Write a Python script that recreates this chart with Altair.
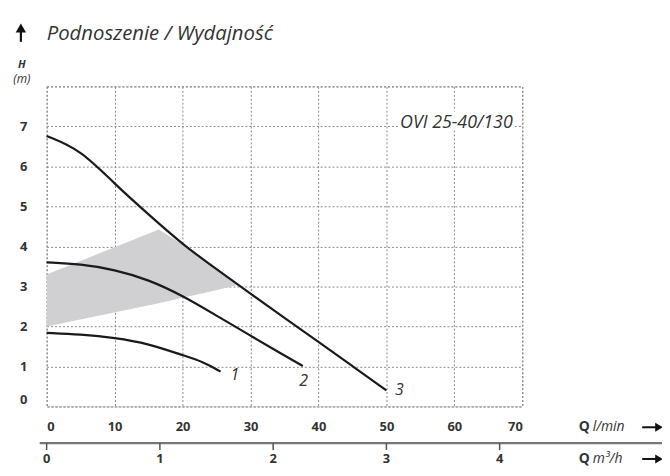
import altair as alt
import pandas as pd

# ---- data (Q in l/min, H in m) ----
curve1_q = [0, 5, 10, 15, 20, 23, 25.6]
curve1_h = [1.84, 1.80, 1.72, 1.57, 1.28, 1.12, 0.87]
curve2_q = [0, 5, 10, 15, 20, 25, 30, 35, 37.7]
curve2_h = [3.60, 3.56, 3.42, 3.17, 2.77, 2.27, 1.77, 1.27, 1.01]
curve3_q = [0, 5, 10, 15, 20, 25, 30, 35, 40, 45, 50]
curve3_h = [6.76, 6.42, 5.56, 4.80, 4.05, 3.43, 2.82, 2.21, 1.62, 1.01, 0.40]

band_q = [0, 16.5, 20, 24, 28]
band_top = [3.30, 4.42, 4.05, 3.56, 3.03]
band_bottom = [2.00, 2.58, 2.72, 2.87, 3.03]

curve_names = ["1", "2", "3"]
curve_label_q = [27.7, 37.8, 51.9]
curve_label_h = [0.79, 0.63, 0.42]

x_ticks = [0, 10, 20, 30, 40, 50, 60, 70]
y_ticks = [0, 1, 2, 3, 4, 5, 6, 7, 8]
m3h_ticks = [0, 1, 2, 3, 4]

model_name = "OVI 25-40/130"
model_q = 60.3
model_h = 7.08

FONT = "Open Sans"
TXT = "#333333"

curves = pd.DataFrame(
    {"q": curve1_q + curve2_q + curve3_q,
     "h": curve1_h + curve2_h + curve3_h,
     "c": ["1"] * len(curve1_q) + ["2"] * len(curve2_q) + ["3"] * len(curve3_q)}
)
band = pd.DataFrame({"q": band_q, "top": band_top, "bottom": band_bottom})
labels = pd.DataFrame({"q": curve_label_q, "h": curve_label_h, "t": curve_names})
m3h = pd.DataFrame({"q": [v * 1000 / 60 for v in m3h_ticks], "t": [str(v) for v in m3h_ticks]})
model = pd.DataFrame({"q": [model_q], "h": [model_h], "t": [model_name]})
one = pd.DataFrame({"a": [0]})

xscale = alt.Scale(domain=[0, 70], nice=False, zero=False)
yscale = alt.Scale(domain=[0, 8], nice=False, zero=False)

xaxis = alt.Axis(values=x_ticks, title=None, domain=False, ticks=False,
                 labelFont=FONT, labelFontWeight="bold", labelFontSize=13,
                 labelColor=TXT, labelPadding=14, grid=True,
                 gridDash=[2, 2], gridColor="#8a8a8a", gridWidth=1)
yaxis = alt.Axis(values=y_ticks, title=None, domain=False, ticks=False,
                 labelExpr="datum.value == 8 ? '' : datum.label",
                 labelOffset={"condition": {"test": "datum.value == 0", "value": -7}, "value": 0},
                 labelFont=FONT, labelFontWeight="bold", labelFontSize=13,
                 labelColor=TXT, labelPadding=20, grid=True,
                 gridDash=[2, 2], gridColor="#8a8a8a", gridWidth=1)


def X(field="q"):
    return alt.X(f"{field}:Q", scale=xscale, axis=xaxis)


def Y(field):
    return alt.Y(f"{field}:Q", scale=yscale, axis=yaxis)


band_layer = alt.Chart(band).mark_area(color="#d0d0d3", opacity=1).encode(
    x=X(), y=Y("top"), y2="bottom:Q",
)

line_layer = alt.Chart(curves).mark_line(color="#1a1a1a", strokeWidth=2.2, interpolate="basis").encode(
    x=X(), y=Y("h"), detail="c:N",
)

label_layer = alt.Chart(labels).mark_text(
    font=FONT, fontStyle="italic", fontSize=16, color=TXT, align="center", baseline="middle"
).encode(x=X(), y=Y("h"), text="t:N")

model_halo = alt.Chart(model).mark_text(
    font=FONT, fontStyle="italic", fontSize=18, color="white", stroke="white", strokeWidth=7,
    align="center", baseline="middle"
).encode(x=X(), y=Y("h"), text="t:N")
model_text = alt.Chart(model).mark_text(
    font=FONT, fontStyle="italic", fontSize=18, color=TXT, align="center", baseline="middle"
).encode(x=X(), y=Y("h"), text="t:N")

# second flow axis (m3/h)
m3h_line = alt.Chart(one).mark_rule(color="#777777", strokeWidth=2.5).encode(
    x=alt.value(-7), x2=alt.value(621), y=alt.value(360))
m3h_tick = alt.Chart(m3h).mark_rule(color="#555555", strokeWidth=1.5).encode(
    x=X(), y=alt.value(360), y2=alt.value(367))
m3h_text = alt.Chart(m3h).mark_text(
    font=FONT, fontWeight="bold", fontSize=13, color=TXT, baseline="middle"
).encode(x=X(), y=alt.value(376), text="t:N")


def txt(s, x, y, size=12, weight="normal", style="normal", align="left"):
    return alt.Chart(one).mark_text(
        text=s, font=FONT, fontSize=size, fontWeight=weight, fontStyle=style,
        color=TXT, align=align, baseline="middle"
    ).encode(x=alt.value(x), y=alt.value(y))


def arrow_right(x0, x1, y):
    shaft = alt.Chart(one).mark_rule(color="#111111", strokeWidth=2).encode(
        x=alt.value(x0), x2=alt.value(x1 - 6), y=alt.value(y))
    head = alt.Chart(one).mark_point(shape="triangle-right", filled=True, color="#111111",
                                     size=80, opacity=1).encode(x=alt.value(x1 - 4), y=alt.value(y))
    return shaft + head


title_shaft = alt.Chart(one).mark_rule(color="#111111", strokeWidth=2.2).encode(
    x=alt.value(-26), y=alt.value(-58), y2=alt.value(-45))
title_head = alt.Chart(one).mark_point(shape="triangle-up", filled=True, color="#111111",
                                       size=110, opacity=1).encode(x=alt.value(-26), y=alt.value(-59))

chart = alt.layer(
    band_layer, line_layer, label_layer, model_halo, model_text,
    m3h_line, m3h_tick, m3h_text,
    txt("Podnoszenie / Wydajność", 0, -53, size=20.5, style="italic"),
    txt("H", -25, -22, size=11, weight="bold", style="italic", align="center"),
    txt("(m)", -25, -7, size=12, style="italic", align="center"),
    txt("Q", 537, 344, size=14, weight="bold"),
    txt("l/min", 551, 344, size=14, style="italic"),
    txt("Q", 537, 376, size=14, weight="bold"),
    txt("m³/h", 551, 376, size=14, style="italic"),
    arrow_right(601, 622, 344),
    arrow_right(601, 622, 376),
    title_shaft, title_head,
).properties(
    width=480, height=323,
    padding={"left": 39, "top": 77, "right": 141, "bottom": 60},
    autosize=alt.AutoSizeParams(type="none"),
).configure_view(stroke="#8a8a8a", strokeDash=[2, 2], strokeWidth=1)

chart.save("out.html", embed_options={"renderer": "svg", "actions": False})
